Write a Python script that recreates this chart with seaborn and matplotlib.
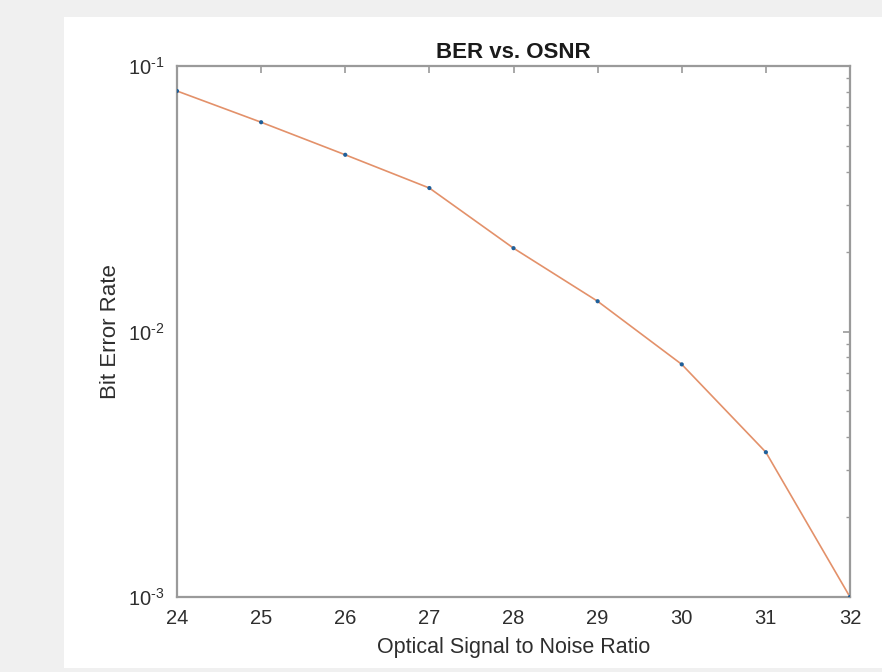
import math
import matplotlib
matplotlib.use("Agg")
import matplotlib.pyplot as plt
import matplotlib.patches as mpatches
import matplotlib.ticker as mticker
import seaborn as sns
import pandas as pd

osnr = [24, 25, 26, 27, 28, 29, 30, 31, 32]
ber = [0.0805, 0.0614, 0.0463, 0.0347, 0.0206, 0.0130, 0.00752, 0.00351, 0.0010]
x_ticks = [24, 25, 26, 27, 28, 29, 30, 31, 32]
title = "BER vs. OSNR"
xlabel = "Optical Signal to Noise Ratio"
ylabel = "Bit Error Rate"

sns.set_style("white")
plt.rcParams['font.family'] = ['Liberation Sans', 'DejaVu Sans']
plt.rcParams['mathtext.fontset'] = 'custom'
plt.rcParams['mathtext.rm'] = 'Liberation Sans'
plt.rcParams['mathtext.it'] = 'Liberation Sans'
plt.rcParams['axes.unicode_minus'] = False

df = pd.DataFrame({"osnr": osnr, "ber": ber})

fig = plt.figure(figsize=(8.82, 6.72), dpi=100, facecolor="#f0f0f0")
fig.patches.append(mpatches.Rectangle((64 / 882, 4 / 672), 818 / 882, 651 / 672,
                                      transform=fig.transFigure, facecolor="white",
                                      edgecolor="none", zorder=-10))
ax = fig.add_axes([177 / 882, 75 / 672, 673 / 882, 531 / 672])
ax.set_zorder(1)
ax.set_facecolor("white")

sns.lineplot(data=df, x="osnr", y="ber", ax=ax, color="#e3916a", linewidth=1.2)
sns.scatterplot(data=df, x="osnr", y="ber", ax=ax, color="#1f5f99", s=9,
                edgecolor="none", zorder=3)

ax.set_yscale("log")
ax.set_xlim(24, 32)
ax.set_ylim(1e-3, 1e-1)
ax.set_xticks(x_ticks)
ax.set_xticklabels([str(t) for t in x_ticks])
ax.yaxis.set_major_locator(mticker.LogLocator(base=10, numticks=10))


def fmt(v, p):
    e = int(round(math.log10(v)))
    if e < 0:
        return r"$\mathregular{10^{\text{-}%d}}$" % (-e)
    return r"$\mathregular{10^{%d}}$" % e


ax.yaxis.set_major_formatter(mticker.FuncFormatter(fmt))
ax.yaxis.set_minor_locator(mticker.LogLocator(base=10, subs=range(2, 10), numticks=10))
ax.yaxis.set_minor_formatter(mticker.NullFormatter())

spine_c = "#9a9a9a"
for s in ax.spines.values():
    s.set_visible(True)
    s.set_color(spine_c)
    s.set_linewidth(1.6)

ax.tick_params(axis="both", which="both", direction="in", top=True, right=True,
               color=spine_c, labelcolor="#2e2e2e", labelsize=14.5)
ax.tick_params(axis="both", which="major", length=5, width=1.2)
ax.tick_params(axis="y", which="minor", length=3, width=1)
ax.tick_params(axis="x", which="major", pad=9)
ax.tick_params(axis="y", which="major", pad=9)

ax.set_title(title, fontsize=16, fontweight="bold", color="#1a1a1a", pad=6)
ax.set_xlabel(xlabel, fontsize=15.5, color="#2e2e2e", labelpad=6)
ax.set_ylabel(ylabel, fontsize=16, color="#2e2e2e", labelpad=5)

fig.savefig("out.png", dpi=100, facecolor=fig.get_facecolor())
